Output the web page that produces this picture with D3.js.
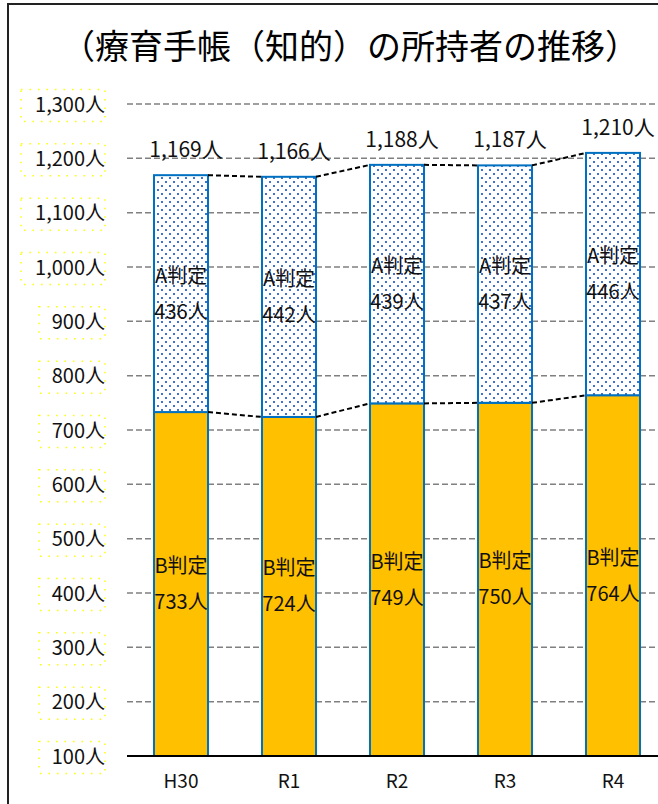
<!DOCTYPE html>
<html lang="ja">
    <head>
        <meta charset="utf-8">
        <title>療育手帳の所持者の推移</title>
        <script type="text/javascript" src="https://cdn.jsdelivr.net/npm/d3@7"></script>
        <style type="text/css">
            body {
                margin: 0;
                background: #fff;
            }
            svg text {
                font-family: "Noto Sans CJK JP", "Noto Sans", sans-serif;
            }
        </style>
    </head>
    <body>
        <script type="text/javascript">
            //Data
            var years = ["H30", "R1", "R2", "R3", "R4"];
            var bValues = [733, 724, 749, 750, 764];
            var aValues = [436, 442, 439, 437, 446];
            var totals = [1169, 1166, 1188, 1187, 1210];
            var yTicks = [100, 200, 300, 400, 500, 600, 700, 800, 900, 1000, 1100, 1200, 1300];

            //Width and height
            var w = 658;
            var h = 804;

            var svg = d3.select("body")
                        .append("svg")
                        .attr("width", w)
                        .attr("height", h);

            //Dotted pattern for A segments
            var pat = svg.append("defs")
                         .append("pattern")
                         .attr("id", "dots")
                         .attr("patternUnits", "userSpaceOnUse")
                         .attr("width", 8)
                         .attr("height", 8);
            pat.append("rect").attr("width", 8).attr("height", 8).attr("fill", "#fff");
            pat.append("rect").attr("x", 1).attr("y", 1).attr("width", 2).attr("height", 2).attr("fill", "#4472C4");
            pat.append("rect").attr("x", 5).attr("y", 5).attr("width", 2).attr("height", 2).attr("fill", "#4472C4");

            //Chart frame
            svg.append("rect")
               .attr("x", 8)
               .attr("y", 4)
               .attr("width", 700)
               .attr("height", 900)
               .attr("fill", "none")
               .attr("stroke", "#222")
               .attr("stroke-width", 2);

            //Title
            svg.append("text")
               .attr("x", 350)
               .attr("y", 59)
               .attr("text-anchor", "middle")
               .attr("font-size", "34px")
               .attr("fill", "#000")
               .text("（療育手帳（知的）の所持者の推移）");

            //Scales
            var xScale = d3.scaleBand()
                           .domain(years)
                           .range([127, 667])
                           .paddingInner(0.5)
                           .paddingOuter(0.25);

            var yScale = d3.scaleLinear()
                           .domain([100, 1300])
                           .range([756, 104]);

            //Gridlines
            svg.append("g")
               .selectAll("line")
               .data(yTicks.slice(1))
               .enter()
               .append("line")
               .attr("x1", 127)
               .attr("x2", w)
               .attr("y1", function(d) { return yScale(d); })
               .attr("y2", function(d) { return yScale(d); })
               .attr("stroke", "#808080")
               .attr("stroke-width", 1.5)
               .attr("stroke-dasharray", "6,3");

            //Y axis labels
            var yAxis = d3.axisLeft(yScale)
                          .tickValues(yTicks)
                          .tickSize(0)
                          .tickPadding(0)
                          .tickFormat(function(d) { return d3.format(",")(d) + "人"; });

            var yg = svg.append("g")
                        .attr("transform", "translate(105,0)")
                        .call(yAxis);
            yg.select(".domain").remove();
            yg.selectAll("text")
              .attr("font-size", "20px")
              .attr("fill", "#111")
              .attr("dy", "0.35em");

            //Yellow dotted boxes round the labels (faint)
            yg.selectAll(".tick")
              .insert("rect", "text")
              .attr("x", function(d) { return d >= 1000 ? -84 : -66; })
              .attr("y", -15)
              .attr("width", function(d) { return d >= 1000 ? 84 : 66; })
              .attr("height", 32)
              .attr("fill", "none")
              .attr("stroke", "#ffff00")
              .attr("stroke-width", 1.5)
              .attr("stroke-dasharray", "1.5,7");

            //B segments
            svg.append("g")
               .selectAll("rect")
               .data(bValues)
               .enter()
               .append("rect")
               .attr("x", function(d, i) { return xScale(years[i]); })
               .attr("y", function(d) { return yScale(d); })
               .attr("width", xScale.bandwidth())
               .attr("height", function(d) { return yScale(100) - yScale(d); })
               .attr("fill", "#FFC000")
               .attr("stroke", "#0070C0")
               .attr("stroke-width", 2);

            //A segments
            svg.append("g")
               .selectAll("rect")
               .data(aValues)
               .enter()
               .append("rect")
               .attr("x", function(d, i) { return xScale(years[i]); })
               .attr("y", function(d, i) { return yScale(bValues[i] + d); })
               .attr("width", xScale.bandwidth())
               .attr("height", function(d, i) { return yScale(bValues[i]) - yScale(bValues[i] + d); })
               .attr("fill", "url(#dots)")
               .attr("stroke", "#0070C0")
               .attr("stroke-width", 2);

            //Series lines between bars
            function seriesLines(vals) {
                svg.append("g")
                   .selectAll("line")
                   .data(vals.slice(0, -1))
                   .enter()
                   .append("line")
                   .attr("x1", function(d, i) { return xScale(years[i]) + xScale.bandwidth(); })
                   .attr("y1", function(d) { return yScale(d); })
                   .attr("x2", function(d, i) { return xScale(years[i + 1]); })
                   .attr("y2", function(d, i) { return yScale(vals[i + 1]); })
                   .attr("stroke", "#000")
                   .attr("stroke-width", 2)
                   .attr("stroke-dasharray", "5,3");
            }
            seriesLines(bValues);
            seriesLines(totals);

            //X axis line
            svg.append("line")
               .attr("x1", 127)
               .attr("x2", w)
               .attr("y1", yScale(100))
               .attr("y2", yScale(100))
               .attr("stroke", "#000")
               .attr("stroke-width", 2);

            //X labels
            svg.append("g")
               .selectAll("text")
               .data(years)
               .enter()
               .append("text")
               .attr("x", function(d) { return xScale(d) + xScale.bandwidth() / 2; })
               .attr("y", 788)
               .attr("text-anchor", "middle")
               .attr("font-size", "19px")
               .attr("fill", "#111")
               .text(function(d) { return d; });

            //Total labels
            svg.append("g")
               .selectAll("text")
               .data(totals)
               .enter()
               .append("text")
               .attr("x", function(d, i) { return xScale(years[i]) + xScale.bandwidth() / 2 + 5; })
               .attr("y", function(d) { return yScale(d) - 18; })
               .attr("text-anchor", "middle")
               .attr("font-size", "21px")
               .attr("fill", "#111")
               .text(function(d) { return d3.format(",")(d) + "人"; });

            //Segment labels, lo/hi are the segment bounds
            function segLabels(vals, lo, hi, name) {
                var g = svg.append("g")
                           .selectAll("g")
                           .data(vals)
                           .enter()
                           .append("g")
                           .attr("transform", function(d, i) {
                               var mid = (yScale(lo[i]) + yScale(hi[i])) / 2;
                               return "translate(" + (xScale(years[i]) + xScale.bandwidth() / 2) + "," + mid + ")";
                           });
                g.append("text")
                 .attr("y", -11)
                 .attr("text-anchor", "middle")
                 .attr("font-size", "20px")
                 .attr("fill", "#111")
                 .text(name);
                g.append("text")
                 .attr("y", 25)
                 .attr("text-anchor", "middle")
                 .attr("font-size", "20px")
                 .attr("fill", "#111")
                 .text(function(d) { return d + "人"; });
            }
            segLabels(aValues, bValues, totals, "A判定");
            segLabels(bValues, [100, 100, 100, 100, 100], bValues, "B判定");
        </script>
    </body>
</html>
